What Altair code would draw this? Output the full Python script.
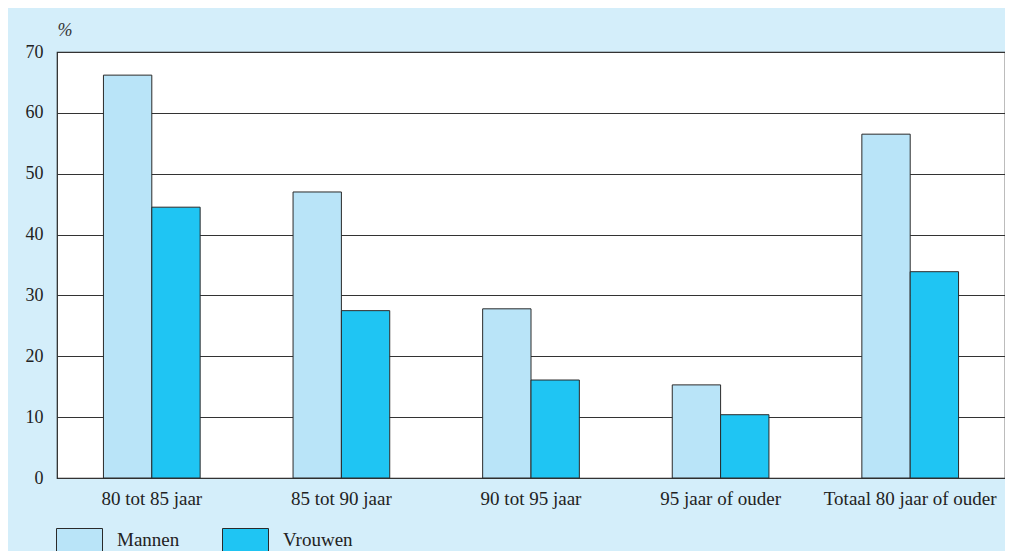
import altair as alt
import pandas as pd

categories = ["80 tot 85 jaar", "85 tot 90 jaar", "90 tot 95 jaar", "95 jaar of ouder", "Totaal 80 jaar of ouder"]
mannen = [66.2, 47.0, 27.8, 15.3, 56.5]
vrouwen = [44.5, 27.5, 16.1, 10.4, 33.9]
series = ["Mannen", "Vrouwen"]
colors = ["#b9e4f8", "#1fc5f3"]
y_ticks = [0, 10, 20, 30, 40, 50, 60, 70]

rows = []
for c, m, v in zip(categories, mannen, vrouwen):
    rows.append({"cat": c, "serie": "Mannen", "val": m})
    rows.append({"cat": c, "serie": "Vrouwen", "val": v})
df = pd.DataFrame(rows)

FONT = "Liberation Serif"

chart = alt.Chart(df).mark_bar(stroke="#2a2a2a", strokeWidth=1).encode(
    x=alt.X("cat:N", sort=categories,
            scale=alt.Scale(paddingInner=0.49, paddingOuter=0.245),
            axis=alt.Axis(title=None, labelAngle=0, ticks=False, domain=False,
                          labelPadding=11, labelFont=FONT, labelFontSize=19,
                          labelColor="#222", grid=False)),
    xOffset=alt.XOffset("serie:N", sort=series, scale=alt.Scale(paddingInner=0, paddingOuter=0)),
    y=alt.Y("val:Q", scale=alt.Scale(domain=[0, 70], nice=False),
            axis=alt.Axis(values=y_ticks, title="%", titleAngle=0, titleX=0, titleY=-22,
                          titleAlign="left", titleBaseline="middle", titleFont=FONT,
                          titleFontSize=18, titleFontStyle="italic", titleFontWeight="normal",
                          titleColor="#333",
                          ticks=False, domain=False, labelPadding=14, labelFont=FONT,
                          labelFontSize=18, labelColor="#222",
                          grid=True, gridColor="#333", gridWidth=1, gridOpacity=1)),
    color=alt.Color("serie:N", sort=series,
                    scale=alt.Scale(domain=series, range=colors),
                    legend=alt.Legend(title=None, orient="none", legendX=-1, legendY=464.5,
                                      direction="horizontal",
                                      symbolType="M-1,-0.5H1V0.5H-1Z", symbolSize=2116,
                                      symbolStrokeColor="#2a2a2a", symbolStrokeWidth=1,
                                      symbolOpacity=1,
                                      labelOffset=14, columnPadding=40, padding=0,
                                      labelFont=FONT, labelFontSize=19, labelColor="#222")),
).properties(
    width=948, height=426,
    autosize=alt.AutoSizeParams(type="none"),
    padding={"left": 49, "top": 44, "right": 0, "bottom": 73},
    background="#d4eefa",
).configure_view(
    fill="white", stroke="#222", strokeWidth=1.2
)

chart.save("out.html", embed_options={"renderer": "svg", "actions": False})
